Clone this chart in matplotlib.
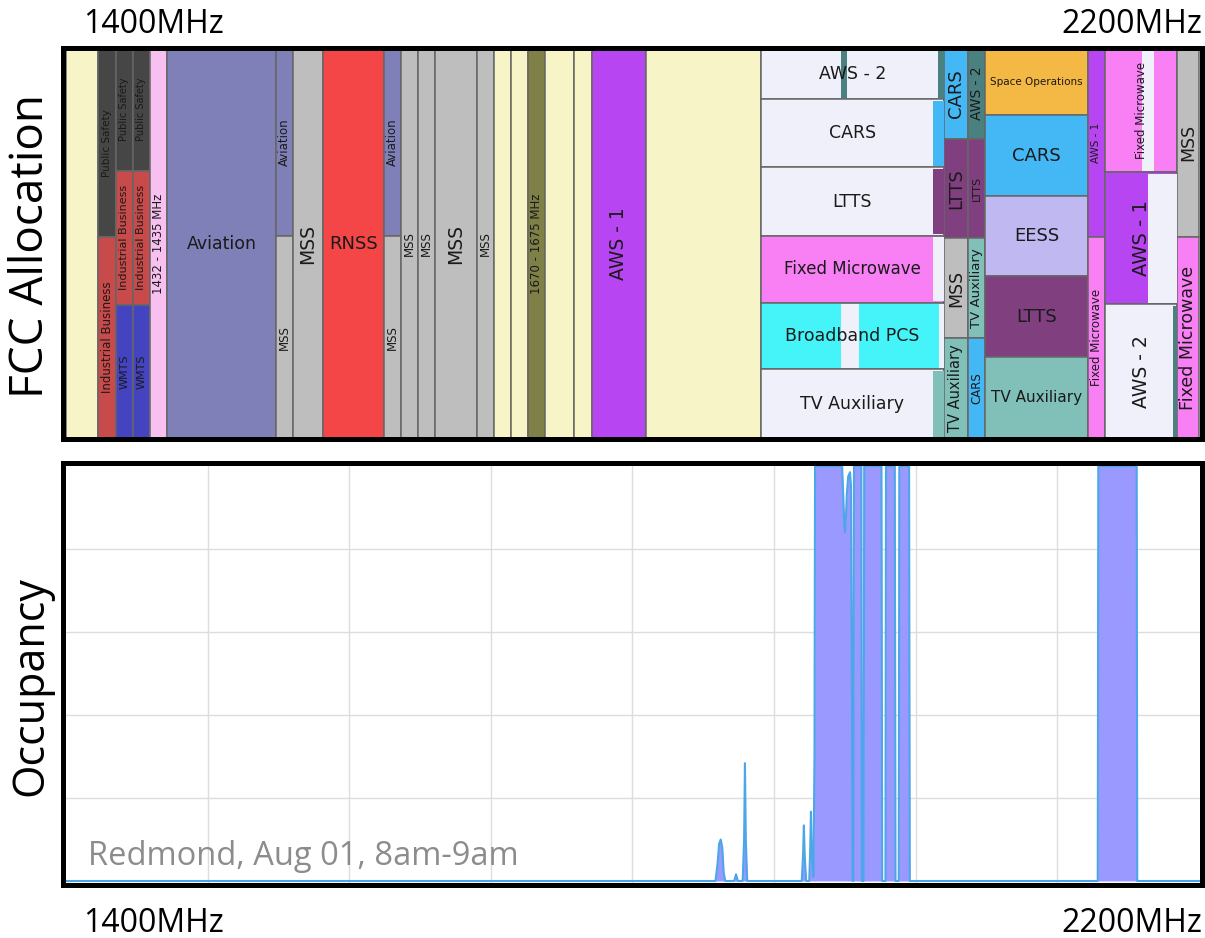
import matplotlib
matplotlib.use("Agg")
import matplotlib.pyplot as plt
from matplotlib.patches import Rectangle

# ---- FCC allocation cells: band edges (MHz on the chart scale), row span (0..1), service, label
cell_lo = [1400.0,
           1422.6, 1422.6,
           1435.3, 1435.3, 1435.3,
           1447.3, 1447.3, 1447.3,
           1459.3, 1471.3,
           1548.3, 1548.3,
           1560.3, 1581.5,
           1624.5, 1624.5,
           1636.5, 1648.5, 1660.5, 1690.2,
           1702.2, 1714.2, 1726.2, 1738.2, 1758.7, 1771.4, 1809.5,
           1890.7, 1890.7, 1890.7, 1890.7, 1890.7, 1890.7,
           2019.9, 2019.9, 2019.9, 2019.9,
           2036.9, 2036.9, 2036.9, 2036.9,
           2048.9, 2048.9, 2048.9, 2048.9, 2048.9,
           2121.6, 2121.6,
           2133.6, 2133.6, 2133.6,
           2184.5, 2184.5]
cell_hi = [1422.6,
           1435.3, 1435.3,
           1447.3, 1447.3, 1447.3,
           1459.3, 1459.3, 1459.3,
           1471.3, 1548.3,
           1560.3, 1560.3,
           1581.5, 1624.5,
           1636.5, 1636.5,
           1648.5, 1660.5, 1690.2, 1702.2,
           1714.2, 1726.2, 1738.2, 1758.7, 1771.4, 1809.5, 1890.7,
           2019.9, 2019.9, 2019.9, 2019.9, 2019.9, 2019.9,
           2036.9, 2036.9, 2036.9, 2036.9,
           2048.9, 2048.9, 2048.9, 2048.9,
           2121.6, 2121.6, 2121.6, 2121.6, 2121.6,
           2133.6, 2133.6,
           2184.5, 2184.5, 2184.5,
           2200.0, 2200.0]
cell_bot = [0,
            0.517, 0,
            0.686, 0.343, 0,
            0.686, 0.343, 0,
            0, 0,
            0.52, 0,
            0, 0,
            0.52, 0,
            0, 0, 0, 0,
            0, 0, 0, 0, 0, 0, 0,
            0.87, 0.695, 0.52, 0.348, 0.177, 0,
            0.769, 0.514, 0.258, 0,
            0.769, 0.514, 0.258, 0,
            0.829, 0.622, 0.416, 0.209, 0,
            0.517, 0,
            0.683, 0.344, 0,
            0.516, 0]
cell_top = [1,
            1, 0.517,
            1, 0.686, 0.343,
            1, 0.686, 0.343,
            1, 1,
            1, 0.52,
            1, 1,
            1, 0.52,
            1, 1, 1, 1,
            1, 1, 1, 1, 1, 1, 1,
            1, 0.87, 0.695, 0.52, 0.348, 0.177,
            1, 0.769, 0.514, 0.258,
            1, 0.769, 0.514, 0.258,
            1, 0.829, 0.622, 0.416, 0.209,
            1, 0.517,
            1, 0.683, 0.344,
            1, 0.516]
cell_service = ['none',
                'safety', 'industrial',
                'safety', 'industrial', 'wmts',
                'safety', 'industrial', 'wmts',
                'l1432', 'aviation',
                'aviation', 'mss',
                'mss', 'rnss',
                'aviation', 'mss',
                'mss', 'mss', 'mss', 'mss',
                'none', 'none', 'l1670', 'none', 'none', 'aws1', 'none',
                'shared', 'shared', 'shared', 'fixed', 'pcs', 'shared',
                'cars', 'ltts', 'mss', 'tvaux',
                'aws2', 'ltts', 'tvaux', 'cars',
                'space', 'cars', 'eess', 'ltts', 'tvaux',
                'aws1', 'fixed',
                'fixed', 'aws1', 'shared',
                'mss', 'fixed']
cell_label = ['',
              'Public Safety', 'Industrial Business',
              'Public Safety', 'Industrial Business', 'WMTS',
              'Public Safety', 'Industrial Business', 'WMTS',
              '1432 - 1435 MHz', 'Aviation',
              'Aviation', 'MSS',
              'MSS', 'RNSS',
              'Aviation', 'MSS',
              'MSS', 'MSS', 'MSS', 'MSS',
              '', '', '1670 - 1675 MHz', '', '', 'AWS - 1', '',
              'AWS - 2', 'CARS', 'LTTS', 'Fixed Microwave', 'Broadband PCS', 'TV Auxiliary',
              'CARS', 'LTTS', 'MSS', 'TV Auxiliary',
              'AWS - 2', 'LTTS', 'TV Auxiliary', 'CARS',
              'Space Operations', 'CARS', 'EESS', 'LTTS', 'TV Auxiliary',
              'AWS - 1', 'Fixed Microwave',
              'Fixed Microwave', 'AWS - 1', 'AWS - 2',
              'MSS', 'Fixed Microwave']

# thin sub-bands drawn inside some cells
strip_lo = [1947.2, 2015.7, 2012.2, 2012.2, 2012.2, 1947.2, 2016.4, 2012.2, 2159.8, 2164.0, 2181.6]
strip_hi = [1951.4, 2019.9, 2019.9, 2019.9, 2019.9, 1960.0, 2019.9, 2019.9, 2168.2, 2184.5, 2184.5]
strip_bot = [0.87, 0.87, 0.695, 0.52, 0.348, 0.177, 0.177, 0, 0.683, 0.344, 0]
strip_top = [1, 1, 0.87, 0.695, 0.52, 0.348, 0.348, 0.177, 1, 0.683, 0.344]
strip_service = ['aws2', 'aws2', 'cars', 'ltts', 'shared', 'shared', 'shared', 'tvaux',
                 'shared', 'shared', 'aws2']

# ---- occupancy trace (MHz, fraction of time occupied)
occ_freq = [1400, 1858.6, 1860.0, 1861.2, 1862.3, 1863.4, 1864.4, 1865.5,
            1871.8, 1873.1, 1874.4,
            1877.8, 1878.8, 1879.4, 1880.0, 1881.0,
            1919.5, 1920.4, 1921.0, 1921.6, 1922.6,
            1924.8, 1925.5, 1926.0, 1926.6, 1927.7, 1928.5, 1928.9,
            1948.0, 1948.8, 1949.5, 1950.0, 1950.5, 1951.3, 1952.3, 1953.6, 1954.3, 1954.9, 1955.4,
            1955.9, 1956.4, 1961.6, 1962.0,
            1963.2, 1963.6, 1975.8, 1976.3,
            1978.6, 1979.0, 1985.2, 1985.7,
            1988.0, 1988.4, 1995.3, 1995.8,
            2128.5, 2128.9, 2156.0, 2156.4, 2200]
occ_val = [0, 0, 0.04, 0.09, 0.10, 0.08, 0.02, 0,
           0, 0.016, 0,
           0, 0.10, 0.284, 0.10, 0,
           0, 0.06, 0.134, 0.06, 0,
           0, 0.08, 0.167, 0.06, 0.01, 0.3, 1.0,
           1.0, 0.93, 0.86, 0.84, 0.86, 0.93, 0.975, 0.985, 0.95, 0.5, 0,
           0, 1.0, 1.0, 0,
           0, 1.0, 1.0, 0,
           0, 1.0, 1.0, 0,
           0, 1.0, 1.0, 0,
           0, 1.0, 1.0, 0, 0]

caption = 'Redmond, Aug 01, 8am-9am'
f_lo_label = '1400MHz'
f_hi_label = '2200MHz'

# ---- styles
colors = {'none': '#f7f5c8', 'safety': '#464646', 'industrial': '#c84a4a', 'wmts': '#4444c0',
          'l1432': '#f8c0f0', 'aviation': '#8080b8', 'mss': '#bebebe', 'rnss': '#f44646',
          'l1670': '#7f8048', 'aws1': '#b845f2', 'aws2': '#4a8080', 'shared': '#f0f0fa',
          'cars': '#44b8f4', 'ltts': '#804080', 'fixed': '#f880f4', 'pcs': '#44f4f8',
          'tvaux': '#80c0b8', 'space': '#f4b844', 'eess': '#c0b8f0'}
# (fontsize, rotated) for each labelled cell
label_style = [(0, 0),
               (7.5, 1), (8.5, 1),
               (7, 1), (8, 1), (8, 1),
               (7, 1), (8, 1), (8, 1),
               (8.5, 1), (12.5, 0),
               (8.5, 1), (8.5, 1),
               (13.5, 1), (13, 0),
               (8.5, 1), (8.5, 1),
               (8.5, 1), (8.5, 1), (13.5, 1), (8.5, 1),
               (0, 0), (0, 0), (8.5, 1), (0, 0), (0, 0), (13.5, 1), (0, 0),
               (12.5, 0), (12.5, 0), (12.5, 0), (12, 0), (12.5, 0), (12.5, 0),
               (13, 1), (13, 1), (12.5, 1), (10.5, 1),
               (10, 1), (8, 1), (9.5, 1), (8.5, 1),
               (7.5, 0), (13, 0), (13, 0), (13, 0), (11, 0),
               (7.5, 1), (8.5, 1),
               (8.5, 1), (14, 1), (13.5, 1),
               (12.5, 1), (12.5, 1)]

W, H = 1205, 938
fig = plt.figure(figsize=(W / 100, H / 100), dpi=100)

px = 800 / 1133.0  # MHz per pixel
xlim = (1400 - 3 * px, 2200 + 3 * px)
ax_left, ax_w = 63 / W, 1139 / W

# FCC allocation panel
ax1 = fig.add_axes([ax_left, (H - 438.5) / H, ax_w, 390 / H])
ax1.set_xlim(*xlim)
ax1.set_ylim(0, 1)
for i in range(len(cell_lo)):
    ax1.add_patch(Rectangle((cell_lo[i], cell_bot[i]), cell_hi[i] - cell_lo[i],
                            cell_top[i] - cell_bot[i], facecolor=colors[cell_service[i]],
                            edgecolor='#666666', linewidth=1.1, zorder=1))
for i in range(len(strip_lo)):
    ax1.add_patch(Rectangle((strip_lo[i], strip_bot[i] + 0.004), strip_hi[i] - strip_lo[i],
                            strip_top[i] - strip_bot[i] - 0.008,
                            facecolor=colors[strip_service[i]], edgecolor='none', zorder=2))
for i in range(len(cell_lo)):
    if not cell_label[i]:
        continue
    fs, rot = label_style[i]
    ax1.text((cell_lo[i] + cell_hi[i]) / 2, (cell_bot[i] + cell_top[i]) / 2, cell_label[i],
             ha='center', va='center', rotation=90 if rot else 0, fontsize=fs,
             family='DejaVu Sans', color='#1a1a1a', zorder=3, rotation_mode='anchor')
ax1.set_xticks([])
ax1.set_yticks([])
for s in ax1.spines.values():
    s.set_linewidth(3.6)
    s.set_color('black')
    s.set_zorder(5)

# occupancy panel
ax2 = fig.add_axes([ax_left, 53 / H, ax_w, 421.5 / H])
ax2.set_xlim(*xlim)
ax2.set_ylim(-4 / 415, 1 + 2.5 / 415)
ax2.fill_between(occ_freq, occ_val, 0, color='#9999ff', linewidth=0, zorder=2)
ax2.plot(occ_freq, occ_val, color='#4da6e8', linewidth=1.5, zorder=3)
ax2.set_xticks([1500, 1600, 1700, 1800, 1900, 2000, 2100])
ax2.set_yticks([0.2, 0.4, 0.6, 0.8])
ax2.tick_params(length=0, labelbottom=False, labelleft=False)
ax2.grid(True, color='#dddddd', linewidth=1.0, zorder=0)
ax2.set_axisbelow(True)
for s in ax2.spines.values():
    s.set_linewidth(3.6)
    s.set_color('black')
    s.set_zorder(5)
ax2.text(88 / W, 0.0778, caption, transform=fig.transFigure, fontsize=23.5,
         family='Open Sans', color='#8c8c8c', ha='left', va='baseline', zorder=6)

# frequency labels and panel titles
for yb in [(H - 33) / H, (H - 932) / H]:
    fig.text(83 / W, yb, f_lo_label, fontsize=23, family='Open Sans', ha='left', va='baseline')
    fig.text(1202 / W, yb, f_hi_label, fontsize=23, family='Open Sans', ha='right', va='baseline')
fig.text(31 / W, (H - 246) / H, 'FCC Allocation', rotation=90, fontsize=33,
         family='Open Sans', ha='center', va='center')
fig.text(31 / W, (H - 686) / H, 'Occupancy', rotation=90, fontsize=31,
         family='Open Sans', ha='center', va='center')

fig.savefig('out.png', dpi=100)
